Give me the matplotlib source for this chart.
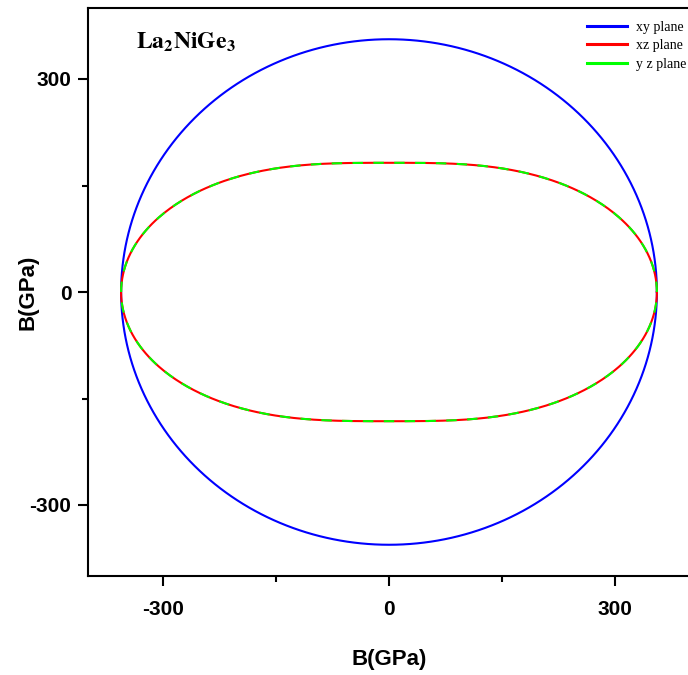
import numpy as np
import matplotlib
matplotlib.use("Agg")
import matplotlib.pyplot as plt
from matplotlib.ticker import FixedLocator

plt.rcParams["axes.unicode_minus"] = False
plt.rcParams["mathtext.fontset"] = "stix"

# Directional bulk modulus (GPa) along the crystal axes
axes_names = ["x", "y", "z"]
B_axis = [356.0, 356.0, 182.0]

planes = ["xy plane", "xz plane", "y z plane"]
plane_axes = [(0, 1), (0, 2), (1, 2)]
colors = ["#0000ff", "#ff0000", "#00ff00"]

xticks = [-300, 0, 300]
yticks = [-300, 0, 300]
minor_ticks = [-150, 150]

theta = np.linspace(0, 2 * np.pi, 721)

fig = plt.figure(figsize=(6.88, 6.75), dpi=100)
ax = fig.add_axes([88 / 688, (675 - 576) / 675, 602 / 688, 568 / 675])

for name, (i, j), c in zip(planes, plane_axes, colors):
    # 1/B(n) = n_i^2 / B_i + n_j^2 / B_j within the plane
    r = 1.0 / (np.cos(theta) ** 2 / B_axis[i] + np.sin(theta) ** 2 / B_axis[j])
    x = r * np.cos(theta)
    y = r * np.sin(theta)
    if name == "y z plane":
        ax.plot(x, y, color=c, lw=1.5, dashes=(5, 5), label=name, zorder=3)
    else:
        ax.plot(x, y, color=c, lw=1.5, label=name, zorder=2)

ax.set_xlim(-400, 400)
ax.set_ylim(-400, 400)

ax.xaxis.set_major_locator(FixedLocator(xticks))
ax.yaxis.set_major_locator(FixedLocator(yticks))
ax.xaxis.set_minor_locator(FixedLocator(minor_ticks))
ax.yaxis.set_minor_locator(FixedLocator(minor_ticks))
ax.tick_params(which="major", direction="out", length=7, width=1.5)
ax.tick_params(which="minor", direction="out", length=4, width=1.5)
ax.tick_params(axis="x", which="major", pad=10)
ax.tick_params(axis="y", which="major", pad=5)
for s in ax.spines.values():
    s.set_linewidth(1.5)

for lbl in ax.get_xticklabels() + ax.get_yticklabels():
    lbl.set_fontfamily("Liberation Sans")
    lbl.set_fontweight("bold")
    lbl.set_fontsize(15)

ax.set_xlabel("B(GPa)", fontfamily="Liberation Sans", fontweight="bold",
              fontsize=16)
ax.set_ylabel("B(GPa)", fontfamily="Liberation Sans", fontweight="bold",
              fontsize=16)
ax.xaxis.set_label_coords((389 - 88) / 602, -(660 - 576) / 568)
ax.yaxis.set_label_coords(-(88 - 28) / 602, 0.5)
ax.xaxis.label.set_va("center")
ax.yaxis.label.set_va("center")

ax.text(0.08, 0.94, r"$\mathbf{La_2NiGe_3}$", transform=ax.transAxes,
        fontsize=17, ha="left", va="center")

leg = ax.legend(loc="upper right", bbox_to_anchor=(1.014, 1.0), frameon=False,
                prop={"family": "Liberation Serif", "size": 10},
                handlelength=2.9, handletextpad=0.6, labelspacing=0.42)
for h in leg.get_lines():
    h.set_linewidth(2.2)
leg.get_lines()[2].set_linestyle("-")

fig.savefig("out.png", dpi=100)
